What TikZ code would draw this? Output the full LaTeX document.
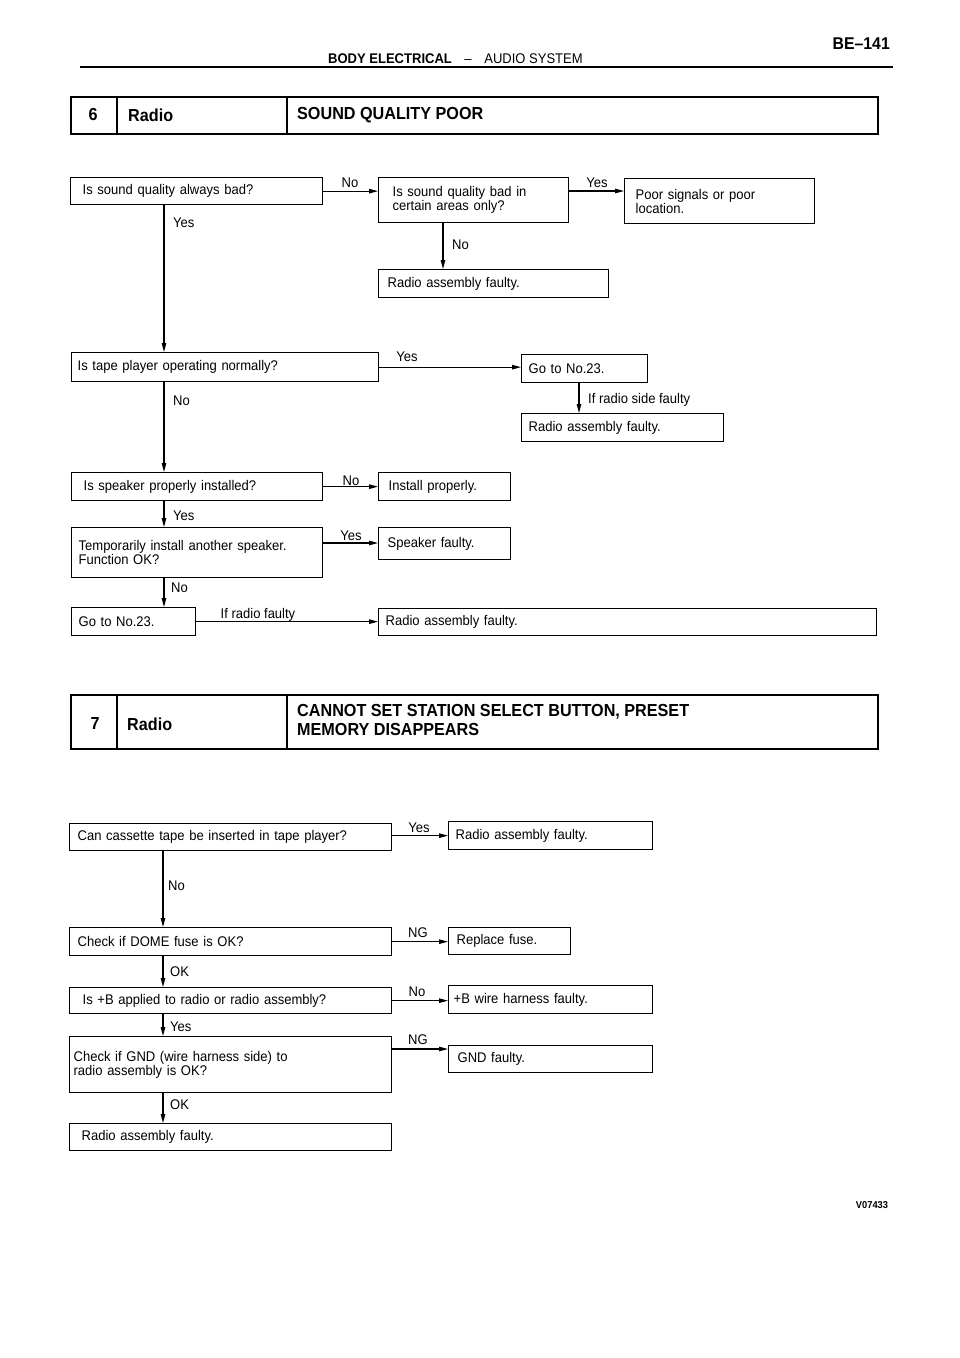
\documentclass[tikz,border=0pt]{standalone}
\usepackage{fontspec}
\setmainfont{Liberation Sans}[FakeStretch=0.93]
\usetikzlibrary{arrows.meta,calc}
\newcommand\flowbox[7]{%
  \pgfmathsetmacro\flowtw{#4-2*#6}%
  \node[box, minimum width=#4pt, minimum height=#5pt, inner xsep=#6pt, text width=\flowtw pt] (#1) at (#2,#3) {#7};}
\begin{document}
\begin{tikzpicture}[x=1pt,y=-1pt,
  box/.style={draw, line width=1.3pt, anchor=north west, align=left, inner ysep=0pt, font=\fontsize{14}{14}\selectfont},
  arr/.style={line width=1.1pt, -{Triangle[length=9pt,width=4.5pt]}},
  lbl/.style={inner sep=0pt, font=\fontsize{14}{14}\selectfont},
  hbox/.style={draw, line width=1.6pt, anchor=north west, inner sep=0pt},
  hline/.style={line width=1.4pt},
  htxt/.style={inner sep=0pt, font=\bfseries\fontsize{17.4}{19}\selectfont, anchor=west, align=left}]
\fill[white] (0,0) rectangle (960,1358);
\useasboundingbox (0,0) rectangle (960,1358);

% page header
\node[inner sep=0pt, anchor=east, font=\bfseries\fontsize{17}{17}\selectfont] (pg) at (890,44) {BE--141};
\node[inner sep=0pt, anchor=west, font=\fontsize{14}{14}\selectfont] (sec) at (328,59) {\textbf{BODY ELECTRICAL}\hspace{0.9em}--\hspace{0.9em}AUDIO SYSTEM};
\draw[line width=2.6pt] (80,67) -- (893,67);

% section 6 header
\node[hbox, minimum width=807pt, minimum height=37pt] (h6) at (70,96) {};
\draw[hline] ($(h6.north west)+(47,0)$) -- ($(h6.south west)+(47,0)$);
\draw[hline] ($(h6.north west)+(217,0)$) -- ($(h6.south west)+(217,0)$);
\node[htxt, anchor=center] (h6a) at (93,115) {6};
\node[htxt] (h6b) at (128,115) {Radio};
\node[htxt] (h6c) at (297,115) {SOUND QUALITY POOR};

% flow 6
\flowbox{b1}{70}{177}{252}{27}{12}{Is sound quality always bad?}
\flowbox{b2}{378}{177}{190}{45}{14}{Is sound quality bad in\\certain areas only?}
\flowbox{b3}{624}{178}{190}{45}{11}{Poor signals or poor\\location.}
\flowbox{b4}{378}{269}{230}{28}{9}{Radio assembly faulty.}
\flowbox{b5}{71}{352}{307}{29}{6}{Is tape player operating normally?}
\flowbox{b6}{521}{354}{126}{28}{7}{Go to No.23.}
\flowbox{b7}{521}{413}{202}{28}{7}{Radio assembly faulty.}
\flowbox{b8}{71}{472}{251}{28}{12}{Is speaker properly installed?}
\flowbox{b9}{378}{472}{132}{28}{10}{Install properly.}
\flowbox{b10}{71}{527}{251}{50}{7}{Temporarily install another speaker.\\Function OK?}
\flowbox{b11}{378}{527}{132}{32}{9}{Speaker faulty.}
\flowbox{b12}{71}{607}{124}{28}{7}{Go to No.23.}
\flowbox{b13}{378}{608}{498}{27}{7}{Radio assembly faulty.}

\draw[arr] (b1.east) -- (b1.east -| b2.west);
\node[lbl] (l12) at (350,183) {No};
\coordinate (c23) at ($(b2.north east)+(0,14)$);
\draw[arr] (c23) -- (c23 -| b3.west);
\node[lbl] (l23) at (597,183) {Yes};
\coordinate (c24) at ($(b2.south west)+(65,0)$);
\draw[arr] (c24) -- (c24 |- b4.north);
\node[lbl, anchor=west] (l24) at (452,245) {No};
\coordinate (c15) at ($(b1.south west)+(94,0)$);
\draw[arr] (c15) -- (c15 |- b5.north);
\node[lbl, anchor=west] (l15) at (173,223) {Yes};
\draw[arr] (b5.east) -- (b5.east -| b6.west);
\node[lbl] (l56) at (407,357) {Yes};
\coordinate (c67) at ($(b6.south west)+(58,0)$);
\draw[arr] (c67) -- (c67 |- b7.north);
\node[lbl, anchor=west] (l67) at (588,400) {If radio side faulty};
\coordinate (c58) at ($(b5.south west)+(93,0)$);
\draw[arr] (c58) -- (c58 |- b8.north);
\node[lbl, anchor=west] (l58) at (173,401) {No};
\draw[arr] (b8.east) -- (b8.east -| b9.west);
\node[lbl] (l89) at (351,481) {No};
\coordinate (c810) at ($(b8.south west)+(93,0)$);
\draw[arr] (c810) -- (c810 |- b10.north);
\node[lbl, anchor=west] (l810) at (173,516) {Yes};
\coordinate (c1011) at ($(b10.north east)+(0,16)$);
\draw[arr] (c1011) -- (c1011 -| b11.west);
\node[lbl] (l1011) at (351,536) {Yes};
\coordinate (c1012) at ($(b10.south west)+(93,0)$);
\draw[arr] (c1012) -- (c1012 |- b12.north);
\node[lbl, anchor=west] (l1012) at (171,588) {No};
\draw[arr] (b12.east) -- (b12.east -| b13.west);
\node[lbl] (l1213) at (258,615) {If radio faulty};

% section 7 header
\node[hbox, minimum width=807pt, minimum height=54pt] (h7) at (70,694) {};
\draw[hline] ($(h7.north west)+(47,0)$) -- ($(h7.south west)+(47,0)$);
\draw[hline] ($(h7.north west)+(217,0)$) -- ($(h7.south west)+(217,0)$);
\node[htxt, anchor=center] (h7a) at (95,724) {7};
\node[htxt] (h7b) at (127,724) {Radio};
\node[htxt] (h7c) at (297,719.5) {CANNOT SET STATION SELECT BUTTON, PRESET\\MEMORY DISAPPEARS};

% flow 7
\flowbox{A}{69}{823}{322}{27}{8}{Can cassette tape be inserted in tape player?}
\flowbox{B}{448}{821}{204}{28}{7}{Radio assembly faulty.}
\flowbox{C}{69}{927}{322}{28}{8}{Check if DOME fuse is OK?}
\flowbox{D}{448}{927}{122}{27}{8}{Replace fuse.}
\flowbox{E}{69}{987}{322}{26}{13}{Is +B applied to radio or radio assembly?}
\flowbox{F}{448}{985}{204}{28}{5}{+B wire harness faulty.}
\flowbox{G}{69}{1036}{322}{56}{4}{Check if GND (wire harness side) to\\radio assembly is OK?}
\flowbox{H}{448}{1045}{204}{27}{9}{GND faulty.}
\flowbox{I}{69}{1123}{322}{27}{12}{Radio assembly faulty.}

\draw[arr] (B.west -| A.east) -- (B.west);
\node[lbl] (lAB) at (419,828) {Yes};
\coordinate (cAC) at ($(A.south west)+(94,0)$);
\draw[arr] (cAC) -- (cAC |- C.north);
\node[lbl, anchor=west] (lAC) at (168,886) {No};
\draw[arr] (C.east) -- (C.east -| D.west);
\node[lbl] (lCD) at (418,933) {NG};
\coordinate (cCE) at ($(C.south west)+(94,0)$);
\draw[arr] (cCE) -- (cCE |- E.north);
\node[lbl, anchor=west] (lCE) at (170,972) {OK};
\draw[arr] (E.east) -- (E.east -| F.west);
\node[lbl] (lEF) at (417,992) {No};
\coordinate (cEG) at ($(E.south west)+(94,0)$);
\draw[arr] (cEG) -- (cEG |- G.north);
\node[lbl, anchor=west] (lEG) at (170,1027) {Yes};
\coordinate (cGH) at ($(G.north east)+(0,13)$);
\draw[arr] (cGH) -- (cGH -| H.west);
\node[lbl] (lGH) at (418,1040) {NG};
\coordinate (cGI) at ($(G.south west)+(94,0)$);
\draw[arr] (cGI) -- (cGI |- I.north);
\node[lbl, anchor=west] (lGI) at (170,1105) {OK};

\node[inner sep=0pt, font=\bfseries\fontsize{10}{10}\selectfont] (code) at (872,1205) {V07433};
\end{tikzpicture}
\end{document}
